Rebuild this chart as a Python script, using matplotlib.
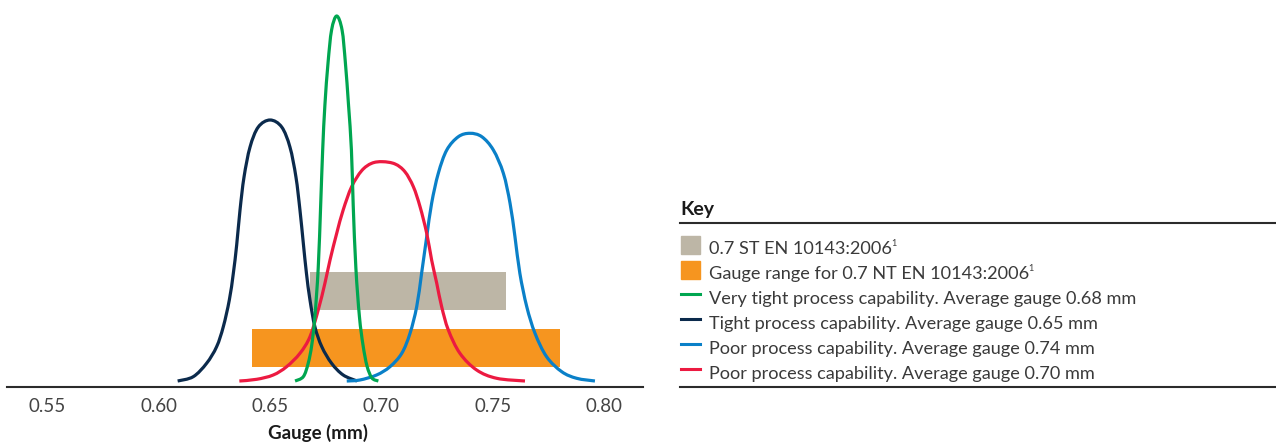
import matplotlib
matplotlib.use("Agg")
import matplotlib.pyplot as plt
from matplotlib.lines import Line2D
from matplotlib.patches import Rectangle, PathPatch
from matplotlib.path import Path

# ---------------- data ----------------
tight_x = [0.6085, 0.6155, 0.6215, 0.6260, 0.6290, 0.6317, 0.6335, 0.6350, 0.6365,
           0.6383, 0.6410, 0.6447, 0.6500, 0.6552, 0.6589, 0.6616, 0.6634, 0.6649,
           0.6663, 0.6679, 0.6701, 0.6732, 0.6776, 0.6828, 0.6890]
tight_y = [0, 4.3, 17.7, 34.3, 54.3, 81, 107.7, 136, 171,
           204, 234, 254, 261, 254, 234, 204, 171, 138,
           108, 81, 54.3, 34.3, 17.7, 6, 0]

vtight_x = [0.6612, 0.6649, 0.6671, 0.6687, 0.6701, 0.6716, 0.6727, 0.6736, 0.6746,
            0.6760, 0.6776, 0.6799, 0.6823, 0.6838, 0.6852, 0.6865, 0.6873, 0.6885,
            0.6901, 0.6917, 0.6935, 0.6957, 0.6986]
vtight_y = [0, 4.3, 17.7, 36, 64.3, 113, 176, 231, 276,
            318, 351, 365, 351, 318, 276, 231, 176, 113,
            64.3, 36, 15, 3, 0]

poor70_x = [0.6362, 0.6440, 0.6514, 0.6574, 0.6634, 0.6679, 0.6716, 0.6746, 0.6769,
            0.6799, 0.6828, 0.6866, 0.6911, 0.6956, 0.7005, 0.7061, 0.7105, 0.7143,
            0.7173, 0.7203, 0.7225, 0.7248, 0.7270, 0.7300, 0.7352, 0.7427, 0.7517,
            0.7644]
poor70_y = [0, 1.7, 6, 14.3, 27.7, 44.3, 71, 97.7, 121,
            147.7, 171, 194.3, 210.3, 217.7, 219.3, 217, 209.3, 194.3,
            174.3, 147.7, 121, 97.7, 74.3, 51, 27.7, 11, 2.7,
            0]

poor74_x = [0.6844, 0.6903, 0.6978, 0.7038, 0.7091, 0.7128, 0.7158, 0.7180, 0.7203,
            0.7225, 0.7255, 0.7293, 0.7345, 0.7397, 0.7450, 0.7502, 0.7547, 0.7577,
            0.7599, 0.7621, 0.7652, 0.7689, 0.7741, 0.7809, 0.7876, 0.7958]
poor74_y = [0, 1, 6, 14.3, 27.7, 47.7, 74.3, 107.7, 144.3,
            177.7, 207.7, 231, 244.3, 247.7, 244.3, 231, 207.7, 177.7,
            144.3, 107.7, 74.3, 47.7, 24.3, 9.3, 2.7, 0]

st_range = [0.668, 0.756]   # 0.7 ST EN 10143:2006
nt_range = [0.642, 0.780]   # 0.7 NT EN 10143:2006

tick_values = [0.55, 0.60, 0.65, 0.70, 0.75, 0.80]
tick_labels = ["0.55", "0.60", "0.65", "0.70", "0.75", "0.80"]

legend_labels = [
    "0.7 ST EN 10143:2006",
    "Gauge range for 0.7 NT EN 10143:2006",
    "Very tight process capability. Average gauge 0.68 mm",
    "Tight process capability. Average gauge 0.65 mm",
    "Poor process capability. Average gauge 0.74 mm",
    "Poor process capability. Average gauge 0.70 mm",
]
legend_notes = ["1", "1", "", "", "", ""]

# ---------------- styles ----------------
C_GREY = "#bdb6a6"
C_ORANGE = "#f6951f"
C_GREEN = "#00a650"
C_NAVY = "#0b2a4c"
C_BLUE = "#0a80c8"
C_RED = "#ec1a41"
C_TEXT = "#3a3a3a"
C_RULE = "#2b2b2b"
FONT = ["Lato", "DejaVu Sans"]

plt.rcParams["font.family"] = FONT

W, H = 1276, 444
fig = plt.figure(figsize=(W / 100, H / 100), dpi=100)


def fx(px):
    return px / W


def fy(py):
    return 1 - py / H


def smooth_path(xs, ys):
    """Cubic Bezier path passing through every read point (Catmull-Rom tangents)."""
    pts = list(zip(xs, ys))
    n = len(pts)
    verts = [pts[0]]
    codes = [Path.MOVETO]
    for i in range(n - 1):
        p0 = pts[i - 1] if i > 0 else pts[i]
        p1 = pts[i]
        p2 = pts[i + 1]
        p3 = pts[i + 2] if i + 2 < n else pts[i + 1]
        c1 = (p1[0] + (p2[0] - p0[0]) / 6.0, p1[1] + (p2[1] - p0[1]) / 6.0)
        c2 = (p2[0] - (p3[0] - p1[0]) / 6.0, p2[1] - (p3[1] - p1[1]) / 6.0)
        verts += [c1, c2, p2]
        codes += [Path.CURVE4] * 3
    return Path(verts, codes)


ax = fig.add_axes([fx(7.3), fy(387), (643 - 7.3) / W, 387 / H])
ax.set_xlim(0.53205, 0.81737)
ax.set_ylim(-6, 381)

# bars
ax.barh(90, st_range[1] - st_range[0], left=st_range[0], height=38,
        color=C_GREY, zorder=1)
ax.barh(33, nt_range[1] - nt_range[0], left=nt_range[0], height=38,
        color=C_ORANGE, zorder=1)

lw = 2.3
for xs, ys, col in [(tight_x, tight_y, C_NAVY), (poor74_x, poor74_y, C_BLUE),
                    (poor70_x, poor70_y, C_RED), (vtight_x, vtight_y, C_GREEN)]:
    ax.add_patch(PathPatch(smooth_path(xs, ys), facecolor="none", edgecolor=col,
                           lw=lw, joinstyle="round", capstyle="butt", zorder=3))

for s in ["left", "right", "top"]:
    ax.spines[s].set_visible(False)
ax.spines["bottom"].set_color(C_RULE)
ax.spines["bottom"].set_linewidth(1.5)
ax.set_yticks([])
ax.set_xticks(tick_values)
ax.set_xticklabels(tick_labels)
ax.tick_params(axis="x", length=0, pad=8, labelsize=13.5, labelcolor="#444444")
ax.set_xlabel("Gauge (mm)", fontsize=13.5, fontweight="bold", color="#1a1a1a")
ax.xaxis.set_label_coords((318 - 7.3) / (643 - 7.3), (387 - 433) / 387)
ax.xaxis.label.set_va("center")

# ---------------- key ----------------
fig.text(fx(680), fy(215), "Key", fontsize=14, fontweight="bold",
         color="#1a1a1a", va="baseline", ha="left")
fig.add_artist(Line2D([fx(680), 1.0], [fy(223.3), fy(223.3)],
                      color=C_RULE, lw=1.5))
fig.add_artist(Line2D([fx(680), 1.0], [fy(387.3), fy(387.3)],
                      color=C_RULE, lw=1.5))

markers = [("patch", C_GREY), ("patch", C_ORANGE), ("line", C_GREEN),
           ("line", C_NAVY), ("line", C_BLUE), ("line", C_RED)]
texts = []
bases = []
for i, (lab, (kind, col)) in enumerate(zip(legend_labels, markers)):
    base = 254 + 25 * i
    bases.append(base)
    if kind == "patch":
        fig.add_artist(Rectangle((fx(681), fy(base)), 19 / W, 18.5 / H,
                                 color=col, transform=fig.transFigure))
    else:
        fig.add_artist(Line2D([fx(681), fx(700)], [fy(base - 10)] * 2,
                              color=col, lw=2.2))
    t = fig.text(fx(709.3), fy(base), lab, fontsize=13, color=C_TEXT,
                 va="baseline", ha="left")
    texts.append(t)

# fit key text size to the reference width of the longest entry
fig.canvas.draw()
r = fig.canvas.get_renderer()
wlong = texts[2].get_window_extent(r).width
size = 13 * (1136 - 709.3) / wlong
for t in texts:
    t.set_fontsize(size)

# small superscript footnote marks
fig.canvas.draw()
r = fig.canvas.get_renderer()
for t, note, base in zip(texts, legend_notes, bases):
    if note:
        bb = t.get_window_extent(r)
        fig.text((bb.x1 - 1.5) / W, fy(base - 8), note, fontsize=size * 0.5,
                 color=C_TEXT, va="baseline", ha="left")

fig.savefig("out.png", dpi=100)
